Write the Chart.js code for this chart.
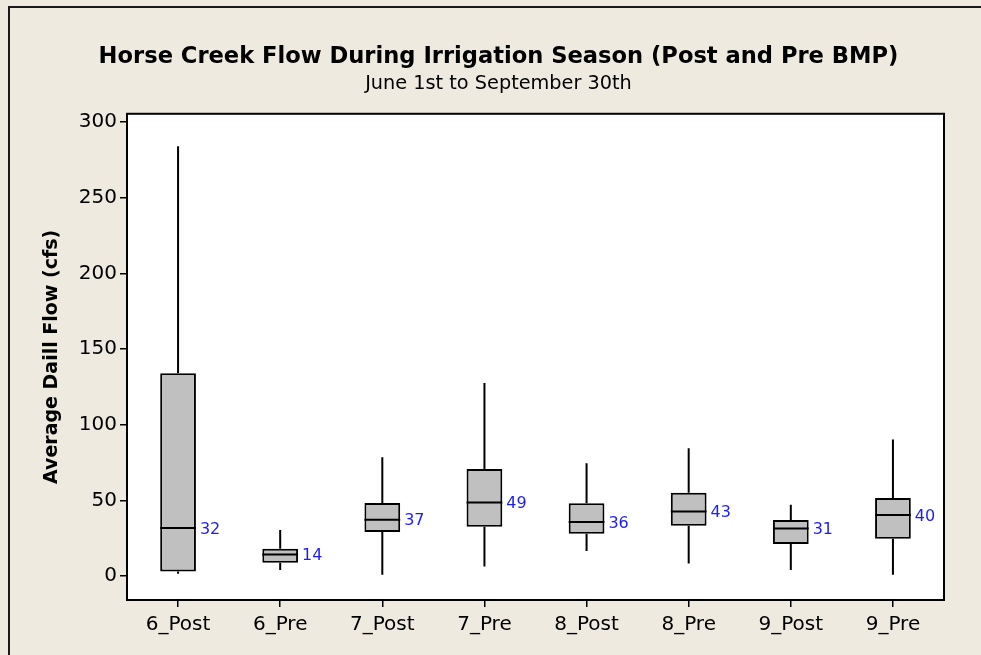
<!DOCTYPE html>
<html>
<head>
<meta charset="utf-8">
<title>Horse Creek Flow</title>
<script src="https://cdn.jsdelivr.net/npm/chart.js@4.4.1/dist/chart.umd.min.js"></script>
<style>
  html, body { margin: 0; padding: 0; background: #eeeae0; }
  canvas { display: block; }
</style>
</head>
<body>
<canvas id="myChart" width="981" height="655"></canvas>
<script>
// valores (cfs)
const categorias = ["6_Post", "6_Pre", "7_Post", "7_Pre", "8_Post", "8_Pre", "9_Post", "9_Pre"];
const minimos = [1.5, 4, 0.9, 6.4, 16.5, 8.4, 4, 0.9];
const q1 = [3.1, 8.8, 29.1, 32.6, 28, 33.3, 21.2, 24.7];
const medianas = [31.7, 14.3, 37.2, 48.6, 35.7, 42.6, 31.4, 40.3];
const q3 = [134, 18, 48.3, 70.8, 48.1, 55.1, 37, 51.6];
const maximos = [284, 30.4, 78.5, 127.6, 74.5, 84.4, 47.2, 90.2];
const yTicks = [0, 50, 100, 150, 200, 250, 300];

const ctx = document.getElementById("myChart");
Chart.defaults.font.family = "'DejaVu Sans', sans-serif";
Chart.defaults.color = "#000";

// bigotes, medianas, etiquetas y marcos
const cajas = {
  id: "cajas",
  beforeDraw(chart) {
    const c = chart.ctx;
    const a = chart.chartArea;
    c.save();
    c.fillStyle = "#eeeae0";
    c.fillRect(0, 0, chart.width, chart.height);
    c.strokeStyle = "#1a1a1a";
    c.lineWidth = 2;
    c.beginPath();
    c.moveTo(9, chart.height);
    c.lineTo(9, 7);
    c.lineTo(chart.width, 7);
    c.stroke();
    c.fillStyle = "#fff";
    c.fillRect(a.left, a.top, a.right - a.left, a.bottom - a.top);
    c.restore();
  },
  beforeDatasetsDraw(chart) {
    const c = chart.ctx;
    const y = chart.scales.y;
    const barras = chart.getDatasetMeta(0).data;
    c.save();
    c.strokeStyle = "#000";
    c.lineWidth = 2;
    barras.forEach((b, i) => {
      c.beginPath();
      c.moveTo(b.x, y.getPixelForValue(minimos[i]));
      c.lineTo(b.x, y.getPixelForValue(q1[i]));
      c.moveTo(b.x, y.getPixelForValue(q3[i]));
      c.lineTo(b.x, y.getPixelForValue(maximos[i]));
      c.stroke();
    });
    c.restore();
  },
  afterDatasetsDraw(chart) {
    const c = chart.ctx;
    const a = chart.chartArea;
    const y = chart.scales.y;
    const barras = chart.getDatasetMeta(0).data;
    c.save();
    c.strokeStyle = "#000";
    c.lineWidth = 2;
    c.font = "16px 'DejaVu Sans'";
    c.fillStyle = "#1c1cff";
    c.textAlign = "left";
    c.textBaseline = "middle";
    barras.forEach((b, i) => {
      const ym = y.getPixelForValue(medianas[i]);
      c.beginPath();
      c.moveTo(b.x - b.width / 2, ym);
      c.lineTo(b.x + b.width / 2, ym);
      c.stroke();
      c.fillText(String(Math.round(medianas[i])), b.x + b.width / 2 + 4, ym + 1.5);
    });
    c.strokeRect(a.left, a.top, a.right - a.left, a.bottom - a.top);
    c.restore();
  }
};

const chart = new Chart(ctx, {
  type: "bar",
  data: {
    labels: categorias,
    datasets: [
      {
        data: categorias.map((_, i) => [q1[i], q3[i]]),
        backgroundColor: "#c0c0c0",
        borderColor: "#000",
        borderWidth: 2,
        borderSkipped: false,
        barPercentage: 0.35,
        categoryPercentage: 1,
      },
    ],
  },
  options: {
    responsive: false,
    animation: false,
    layout: { padding: { left: 16, right: 0, top: 0, bottom: 0 } },
    plugins: {
      legend: { display: false },
      tooltip: { enabled: false },
      title: {
        display: true,
        text: "Horse Creek Flow During Irrigation Season (Post and Pre BMP)",
        font: { size: 22.6, weight: "bold" },
        color: "#000",
        padding: { top: 44, bottom: 0 },
      },
      subtitle: {
        display: true,
        text: "June 1st to September 30th",
        font: { size: 19.3 },
        color: "#000",
        padding: { top: 1.5, bottom: 18 },
      },
    },
    scales: {
      x: {
        offset: true,
        grid: { offset: false, drawOnChartArea: false, tickLength: 7, color: "#000", lineWidth: 1.5 },
        border: { display: false },
        ticks: { color: "#000", font: { size: 20 }, padding: 6 },
        afterFit(s) { s.height = 55; },
      },
      y: {
        min: -15.8,
        max: 305.5,
        afterBuildTicks(s) { s.ticks = yTicks.map((v) => ({ value: v })); },
        grid: { drawOnChartArea: false, tickLength: 7, color: "#000", lineWidth: 1.5 },
        border: { display: false },
        ticks: { color: "#000", font: { size: 20 }, padding: 3 },
        title: {
          display: true,
          text: "Average Daill Flow (cfs)",
          font: { size: 19, weight: "bold" },
          color: "#000",
          padding: { top: 25, bottom: 0 },
        },
        afterFit(s) { s.width = 111; },
      },
      y2: {
        position: "right",
        grid: { display: false },
        border: { display: false },
        ticks: { display: false },
        afterFit(s) { s.width = 37; },
      },
    },
  },
  plugins: [cajas],
});
</script>
</body>
</html>
